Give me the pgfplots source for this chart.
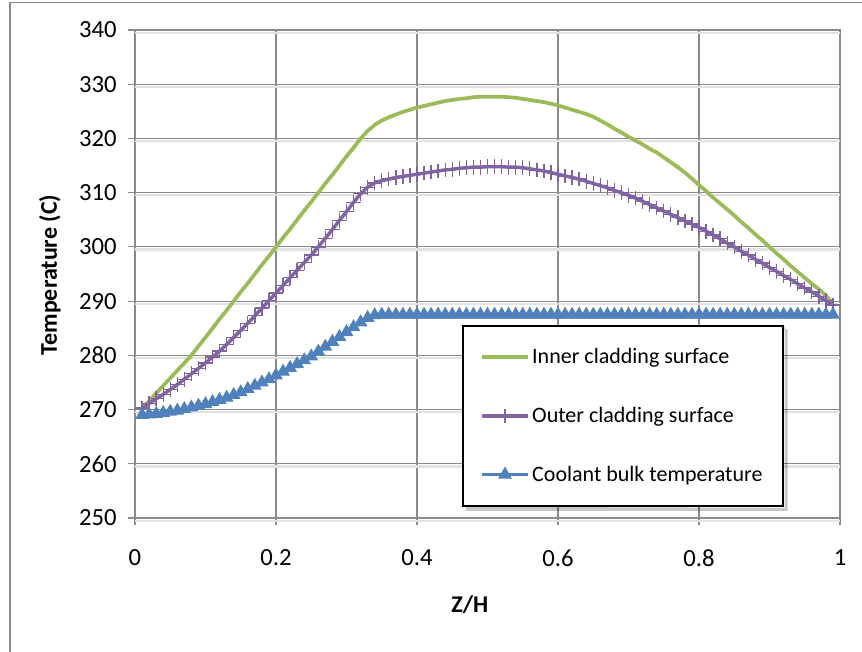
\documentclass[border=0pt]{standalone}
\usepackage{pgfplots}
\pgfplotsset{compat=1.18}
\usepackage{pgfplotstable}
\usepackage{fontspec}
\setmainfont{Carlito}
\definecolor{cgreen}{HTML}{9BBB59}
\definecolor{cpurple}{HTML}{8064A2}
\definecolor{cblue}{HTML}{4F81BD}
\definecolor{gridgray}{HTML}{8A8A8A}
\definecolor{shadowgray}{HTML}{E2E2E2}

\pgfplotstableread{
x y
0.01 270.2
0.02 271.6
0.03 273.0
0.04 274.4
0.05 275.8
0.06 277.2
0.07 278.6
0.08 280.0
0.09 281.7
0.10 283.3
0.11 285.0
0.12 286.7
0.13 288.3
0.14 290.0
0.15 291.7
0.16 293.3
0.17 295.0
0.18 296.7
0.19 298.3
0.20 300.0
0.21 301.7
0.22 303.3
0.23 305.0
0.24 306.7
0.25 308.3
0.26 310.0
0.27 311.7
0.28 313.3
0.29 315.0
0.30 316.7
0.31 318.3
0.32 320.0
0.33 321.4
0.34 322.5
0.35 323.3
0.36 323.9
0.37 324.4
0.38 324.9
0.39 325.3
0.40 325.7
0.41 326.0
0.42 326.3
0.43 326.6
0.44 326.9
0.45 327.1
0.46 327.3
0.47 327.4
0.48 327.6
0.49 327.7
0.50 327.7
0.51 327.7
0.52 327.7
0.53 327.6
0.54 327.5
0.55 327.3
0.56 327.1
0.57 326.9
0.58 326.7
0.59 326.4
0.60 326.1
0.61 325.7
0.62 325.3
0.63 324.9
0.64 324.5
0.65 324.0
0.66 323.3
0.67 322.6
0.68 321.8
0.69 321.1
0.70 320.3
0.71 319.6
0.72 318.9
0.73 318.1
0.74 317.4
0.75 316.5
0.76 315.6
0.77 314.7
0.78 313.7
0.79 312.6
0.80 311.4
0.81 310.3
0.82 309.1
0.83 308.0
0.84 306.9
0.85 305.8
0.86 304.6
0.87 303.5
0.88 302.3
0.89 301.2
0.90 300.0
0.91 298.8
0.92 297.7
0.93 296.5
0.94 295.4
0.95 294.3
0.96 293.2
0.97 292.2
0.98 291.0
0.99 289.6
}\innerclad

\pgfplotstableread{
x y
0.01 270.3
0.02 271.1
0.03 272.0
0.04 272.8
0.05 273.7
0.06 274.6
0.07 275.6
0.08 276.6
0.09 277.6
0.10 278.6
0.11 279.7
0.12 280.8
0.13 282.0
0.14 283.3
0.15 284.6
0.16 285.9
0.17 287.3
0.18 288.7
0.19 290.1
0.20 291.5
0.21 292.9
0.22 294.3
0.23 295.7
0.24 297.1
0.25 298.5
0.26 300.0
0.27 301.6
0.28 303.2
0.29 304.9
0.30 306.5
0.31 308.2
0.32 309.8
0.33 311.0
0.34 311.8
0.35 312.2
0.36 312.5
0.37 312.8
0.38 313.0
0.39 313.2
0.40 313.4
0.41 313.6
0.42 313.8
0.43 314.0
0.44 314.2
0.45 314.3
0.46 314.5
0.47 314.6
0.48 314.7
0.49 314.7
0.50 314.8
0.51 314.8
0.52 314.8
0.53 314.7
0.54 314.7
0.55 314.6
0.56 314.4
0.57 314.2
0.58 314.0
0.59 313.7
0.60 313.4
0.61 313.1
0.62 312.8
0.63 312.5
0.64 312.1
0.65 311.7
0.66 311.3
0.67 310.9
0.68 310.4
0.69 310.0
0.70 309.5
0.71 309.0
0.72 308.4
0.73 307.8
0.74 307.2
0.75 306.6
0.76 306.0
0.77 305.4
0.78 304.8
0.79 304.2
0.80 303.6
0.81 302.9
0.82 302.2
0.83 301.5
0.84 300.7
0.85 300.0
0.86 299.2
0.87 298.5
0.88 297.7
0.89 297.0
0.90 296.2
0.91 295.5
0.92 294.7
0.93 294.0
0.94 293.2
0.95 292.4
0.96 291.7
0.97 290.9
0.98 290.1
0.99 289.3
}\outerclad

\pgfplotstableread{
x y
0.01 269.0
0.02 269.1
0.03 269.2
0.04 269.4
0.05 269.6
0.06 269.8
0.07 270.1
0.08 270.4
0.09 270.7
0.10 271.0
0.11 271.4
0.12 271.8
0.13 272.2
0.14 272.7
0.15 273.2
0.16 273.8
0.17 274.4
0.18 275.0
0.19 275.6
0.20 276.3
0.21 277.0
0.22 277.7
0.23 278.4
0.24 279.1
0.25 279.8
0.26 280.7
0.27 281.6
0.28 282.5
0.29 283.4
0.30 284.3
0.31 285.2
0.32 286.1
0.33 286.9
0.34 287.4
0.35 287.5
0.36 287.5
0.37 287.5
0.38 287.5
0.39 287.5
0.40 287.5
0.41 287.5
0.42 287.5
0.43 287.5
0.44 287.5
0.45 287.5
0.46 287.5
0.47 287.5
0.48 287.5
0.49 287.5
0.50 287.5
0.51 287.5
0.52 287.5
0.53 287.5
0.54 287.5
0.55 287.5
0.56 287.5
0.57 287.5
0.58 287.5
0.59 287.5
0.60 287.5
0.61 287.5
0.62 287.5
0.63 287.5
0.64 287.5
0.65 287.5
0.66 287.5
0.67 287.5
0.68 287.5
0.69 287.5
0.70 287.5
0.71 287.5
0.72 287.5
0.73 287.5
0.74 287.5
0.75 287.5
0.76 287.5
0.77 287.5
0.78 287.5
0.79 287.5
0.80 287.5
0.81 287.5
0.82 287.5
0.83 287.5
0.84 287.5
0.85 287.5
0.86 287.5
0.87 287.5
0.88 287.5
0.89 287.5
0.90 287.5
0.91 287.5
0.92 287.5
0.93 287.5
0.94 287.5
0.95 287.5
0.96 287.5
0.97 287.5
0.98 287.5
0.99 287.5
}\coolant

\begin{document}
\begin{tikzpicture}
\path[use as bounding box] (0,0) rectangle (646.5pt,488.25pt);
\fill[white] (0,0) rectangle (646.5pt,488.25pt);
\draw[gridgray, line width=1.3pt] (7.5pt,-20pt) rectangle (680pt,486.4pt);
\begin{axis}[
  at={(101.25pt,99.75pt)}, anchor=south west,
  scale only axis, width=528.75pt, height=366pt,
  xmin=0, xmax=1, ymin=250, ymax=340,
  xtick={0,0.2,0.4,0.6,0.8,1},
  ytick={250,260,270,280,290,300,310,320,330,340},
  extra y ticks={250,260,270,280,290,300,310,320,330,340},
  extra y tick labels={},
  extra y tick style={major tick length=0pt, grid=major,
    major grid style={draw=shadowgray, line width=1.6pt, transform canvas={yshift=-2pt}}},
  /pgf/number format/assume math mode=true,
  ticklabel style={font=\fontsize{18.5}{21}\selectfont},
  xticklabel style={yshift=-15pt},
  yticklabel style={xshift=-5pt},
  tick pos=left, tick align=outside, major tick length=5.25pt,
  tick style={gridgray, line width=0.9pt},
  axis line style={gridgray, line width=0.9pt},
  grid=major,
  major grid style={gridgray, line width=0.9pt},
  xlabel={\bfseries Z/H},
  ylabel={\bfseries Temperature (C)},
  label style={font=\fontsize{18}{21}\selectfont},
  xlabel style={at={(axis description cs:0.475,-0.178)}, anchor=center},
  ylabel style={at={(axis description cs:-0.1206,0.498)}, anchor=center},
  legend cell align=left,
  legend image code/.code={\draw[#1, mark repeat=2, mark phase=2] plot coordinates {(0pt,0pt) (17pt,0pt) (34pt,0pt)};},
  legend style={name=leg, at={(axis cs:0.464,285.6)}, anchor=north west, draw=black, line width=1.5pt, fill=white,
    font=\fontsize{16.5}{19}\selectfont, inner xsep=13pt, inner ysep=15pt, row sep=27pt},
]
\addplot[cgreen, line width=2.8pt, no markers] table {\innerclad};
\addlegendentry{Inner cladding surface}
\addplot[cpurple, line width=2.6pt, mark=+, mark size=5.5pt, mark options={line width=1pt, solid}] table {\outerclad};
\addlegendentry{Outer cladding surface}
\addplot[cblue, line width=2.8pt, mark=triangle*, mark size=3.2pt, mark options={solid}] table {\coolant};
\addlegendentry{Coolant bulk temperature}
\end{axis}
\fill[black, opacity=0.22]
  ([xshift=3pt]leg.south west) -- ([xshift=3pt,yshift=-3pt]leg.south west)
  -- ([xshift=3pt,yshift=-3pt]leg.south east) -- ([xshift=3pt,yshift=-3pt]leg.north east)
  -- ([yshift=-3pt]leg.north east) -- ([yshift=-0.75pt,xshift=0.75pt]leg.north east)
  -- ([xshift=0.75pt,yshift=-0.75pt]leg.south east) -- cycle;
\end{tikzpicture}
\end{document}
